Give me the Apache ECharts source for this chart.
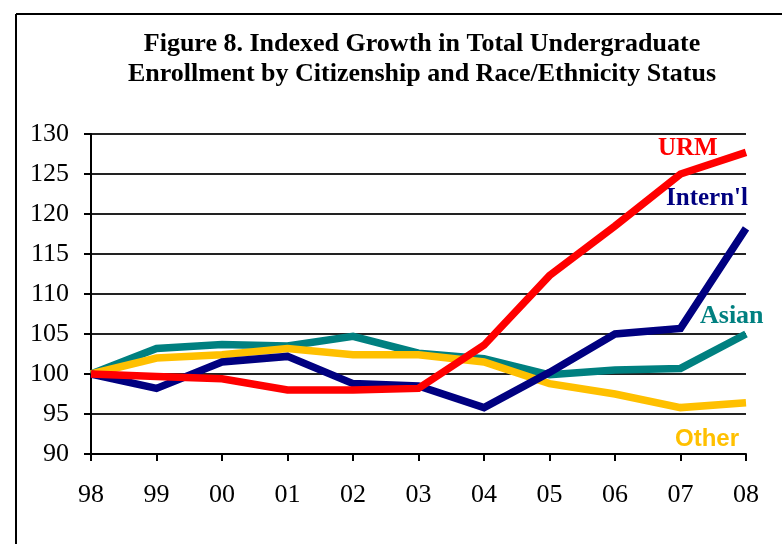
<!DOCTYPE html>
<html><head><meta charset="utf-8">
<script src="https://cdn.jsdelivr.net/npm/echarts@6/dist/echarts.min.js"></script>
<style>html,body{margin:0;padding:0;background:#fff}#c{width:782px;height:544px}</style>
</head><body><div id="c"></div>
<script>
const years = ['98','99','00','01','02','03','04','05','06','07','08'];
const urm = [100, 99.7, 99.4, 98.0, 98.0, 98.2, 103.6, 112.3, 118.5, 125.0, 127.7];
const intl = [100, 98.2, 101.5, 102.2, 98.8, 98.5, 95.8, 100.2, 105.0, 105.7, 118.2];
const asian = [100, 103.2, 103.7, 103.5, 104.7, 102.6, 101.9, 99.9, 100.5, 100.7, 105.0];
const other = [100, 102.0, 102.4, 103.2, 102.4, 102.4, 101.5, 98.8, 97.5, 95.8, 96.4];
const yTicks = [90, 95, 100, 105, 110, 115, 120, 125, 130];

const chart = echarts.init(document.getElementById('c'));
const serif = '"Liberation Serif","Times New Roman",serif';
const sans = '"Liberation Sans",Arial,sans-serif';
function line(name, data, color, z) {
  return {name, type:'line', data, symbol:'none', z,
    lineStyle:{color, width:7.5, join:'miter'}, itemStyle:{color}};
}
chart.setOption({
  animation:false,
  backgroundColor:'#fff',
  grid:{left:91, right:36, top:134, bottom:90},
  xAxis:{type:'category', data:years, boundaryGap:false,
    axisLine:{lineStyle:{color:'#000', width:2}},
    axisTick:{show:true, length:7, lineStyle:{color:'#000', width:2}},
    axisLabel:{color:'#000', fontFamily:serif, fontSize:26, margin:28},
    splitLine:{show:false}},
  yAxis:{type:'value', min:90, max:130, interval:5,
    axisLine:{show:true, lineStyle:{color:'#000', width:2}},
    axisTick:{show:true, length:7, lineStyle:{color:'#000', width:2}},
    axisLabel:{color:'#000', fontFamily:serif, fontSize:26, margin:22,
      formatter: v => yTicks.includes(v) ? String(v) : ''},
    splitLine:{show:true, lineStyle:{color:'#222', width:2}}},
  series:[
    line('Asian', asian, '#008080', 2),
    line('Other', other, '#FFC000', 3),
    line('Intern\'l', intl, '#000080', 4),
    line('URM', urm, '#FF0000', 5)
  ],
  graphic:[
    {type:'line', shape:{x1:16, y1:14, x2:782, y2:14}, style:{stroke:'#000', lineWidth:2}},
    {type:'line', shape:{x1:16, y1:14, x2:16, y2:544}, style:{stroke:'#000', lineWidth:2}},
    {type:'text', x:422, y:29, style:{text:'Figure 8. Indexed Growth in Total Undergraduate\nEnrollment by Citizenship and Race/Ethnicity Status',
      font:'bold 26px '+serif, fill:'#000', align:'center', verticalAlign:'top', lineHeight:30}},
    {type:'text', x:658, y:149, style:{text:'URM', font:'bold 25px '+serif, fill:'#FF0000', verticalAlign:'middle'}},
    {type:'text', x:666, y:199, style:{text:'Intern\'l', font:'bold 25px '+serif, fill:'#000080', verticalAlign:'middle'}},
    {type:'text', x:700, y:316, style:{text:'Asian', font:'bold 26px '+serif, fill:'#008080', verticalAlign:'middle'}},
    {type:'text', x:675, y:439, style:{text:'Other', font:'bold 24px '+sans, fill:'#FFC000', verticalAlign:'middle'}}
  ]
});
</script></body></html>
